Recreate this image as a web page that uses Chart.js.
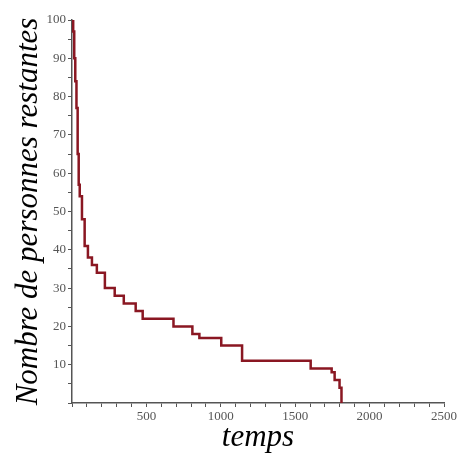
<!DOCTYPE html>
<html>
<head>
<meta charset="utf-8">
<title>Nombre de personnes restantes</title>
<script src="https://cdn.jsdelivr.net/npm/chart.js@4"></script>
<style>
  html, body { margin: 0; padding: 0; background: #fff; }
  canvas { display: block; }
</style>
</head>
<body>
<canvas id="chart" width="459" height="456"></canvas>
<script>
// temps de chaque départ, et nombre de personnes restantes juste après
const times  = [0, 8, 15, 22, 30, 38, 45, 52, 67, 85, 107, 134, 167, 221, 287, 348, 428, 475, 682, 809, 856, 1003, 1143, 1604, 1745, 1765, 1798, 1811];
const counts = [100, 97, 90, 84, 77, 65, 57, 54, 48, 41, 38, 36, 34, 30, 28, 26, 24, 22, 20, 18, 17, 15, 11, 9, 8, 6, 4, 0];
const xTickLabels = [500, 1000, 1500, 2000, 2500];
const yTickLabels = [10, 20, 30, 40, 50, 60, 70, 80, 90, 100];

const axisColor = '#555';
const tickFont = { family: 'Liberation Serif', size: 13 };
const titleFont = { family: 'Liberation Serif', size: 31, style: 'italic' };

const points = times.map((t, i) => ({ x: t, y: counts[i] }));

new Chart(document.getElementById('chart'), {
  type: 'line',
  data: {
    datasets: [{
      data: points,
      stepped: true,
      borderColor: '#8a1722',
      borderWidth: 2.5,
      pointRadius: 0,
      fill: false
    }]
  },
  options: {
    responsive: false,
    animation: false,
    layout: { padding: { top: 20, right: 13, left: 0, bottom: 0 } },
    plugins: { legend: { display: false }, tooltip: { enabled: false } },
    scales: {
      x: {
        type: 'linear',
        min: 0, max: 2500,
        afterFit: s => { s.height = 53; },
        border: { display: true, color: axisColor, width: 1.5 },
        grid: { drawOnChartArea: false, drawTicks: true, tickLength: 4, color: axisColor },
        ticks: {
          stepSize: 100,
          autoSkip: false,
          maxRotation: 0,
          color: axisColor,
          font: tickFont,
          padding: 2,
          callback: v => xTickLabels.includes(v) ? String(v) : ''
        },
        title: { display: true, text: 'temps', color: '#000', font: titleFont, padding: { top: 2, bottom: 0 } }
      },
      y: {
        min: 0, max: 100,
        afterFit: s => { s.width = 72; },
        border: { display: true, color: axisColor, width: 1.5 },
        grid: { drawOnChartArea: false, drawTicks: true, tickLength: 4, color: axisColor },
        ticks: {
          stepSize: 5,
          autoSkip: false,
          color: axisColor,
          font: tickFont,
          padding: 2,
          callback: v => yTickLabels.includes(v) ? String(v) : ''
        },
        title: { display: true, text: 'Nombre de personnes restantes', color: '#000', font: titleFont, padding: { top: 10, bottom: 0 } }
      }
    }
  }
});
</script>
</body>
</html>
